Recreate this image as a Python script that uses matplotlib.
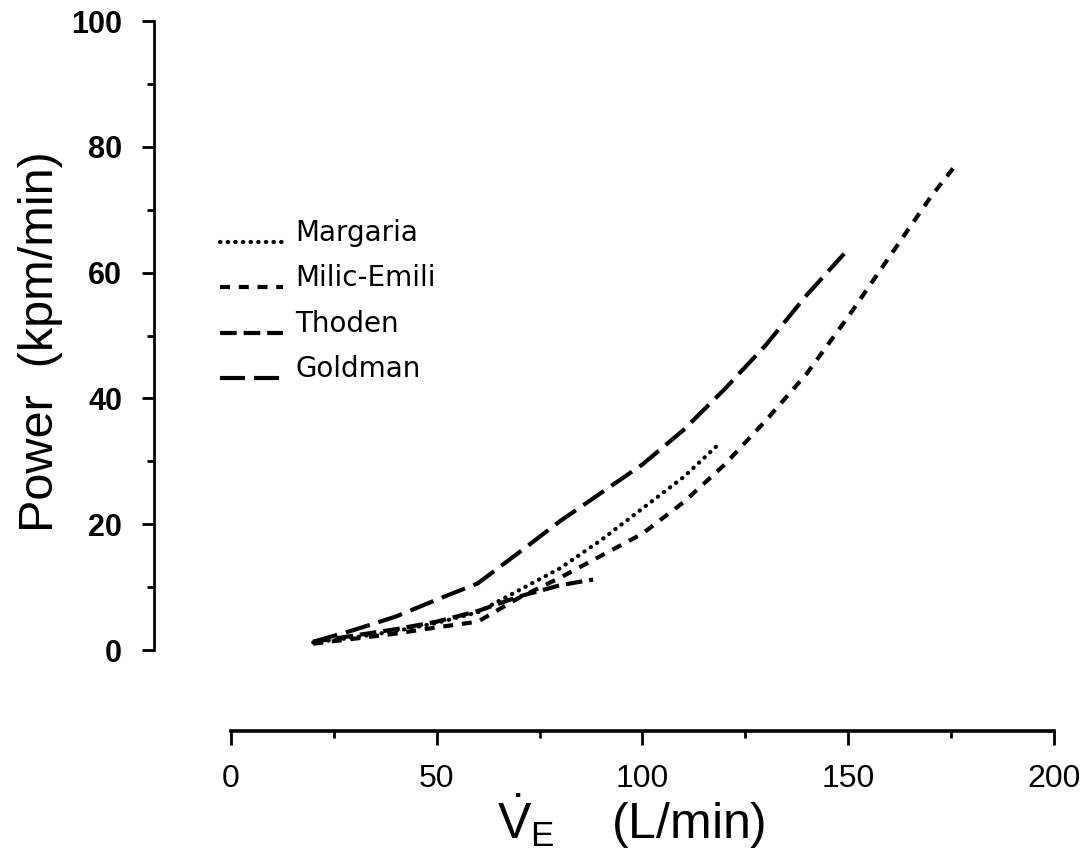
import numpy as np
import matplotlib
matplotlib.use("Agg")
import matplotlib.pyplot as plt
from matplotlib.legend_handler import HandlerLine2D

plt.rcParams["lines.scale_dashes"] = False
plt.rcParams["mathtext.fontset"] = "custom"
plt.rcParams["mathtext.rm"] = "Liberation Sans"
plt.rcParams["mathtext.it"] = "Liberation Sans:italic"

# Ventilation (L/min) and respiratory power (kpm/min) for each model
ve_margaria = [20, 30, 40, 50, 60, 70, 80, 90, 100, 110, 119]
pw_margaria = [1.2, 2.0, 3.0, 4.3, 6.0, 9.5, 13.0, 17.5, 22.5, 27.5, 33.0]

ve_milic = [20, 30, 40, 50, 60, 70, 80, 90, 100, 110, 120, 130, 140, 150, 160, 170, 176]
pw_milic = [1.0, 1.8, 2.6, 3.6, 4.5, 8.3, 11.5, 15.0, 18.5, 23.5, 29.5, 36.5, 44.0, 53.0, 62.5, 72.0, 77.0]

ve_thoden = [20, 30, 40, 50, 60, 70, 80, 88]
pw_thoden = [1.3, 2.3, 3.3, 4.5, 6.2, 8.5, 10.3, 11.2]

ve_goldman = [20, 30, 40, 50, 60, 70, 80, 90, 100, 110, 120, 130, 140, 149]
pw_goldman = [1.3, 3.2, 5.3, 8.0, 10.6, 15.5, 20.5, 25.0, 29.5, 35.0, 41.5, 48.5, 56.5, 63.0]

series_names = ["Margaria", "Milic-Emili", "Thoden", "Goldman"]

x_ticks = [0, 50, 100, 150, 200]
x_minor = [25, 75, 125, 175]
y_ticks = [0, 20, 40, 60, 80, 100]
y_minor = [10, 30, 50, 70, 90]


class BaselineLine(HandlerLine2D):
    """Legend sample drawn near the text baseline instead of mid-height."""

    def __init__(self, drop=0.35, **kw):
        super().__init__(**kw)
        self.drop = drop

    def create_artists(self, legend, orig_handle, xdescent, ydescent,
                       width, height, fontsize, trans):
        arts = super().create_artists(legend, orig_handle, xdescent, ydescent,
                                      width, height, fontsize, trans)
        for a in arts:
            a.set_ydata(np.asarray(a.get_ydata(), float) - self.drop * fontsize)
        return arts


fig = plt.figure(figsize=(10.91, 8.58), dpi=100)
ax = fig.add_axes([0.1407, 0.148, 0.8254, 0.8275])
ax.set_xlim(-18.8, 200)
ax.set_ylim(-12.88, 100)

lw = 3.0
ax.plot(ve_margaria, pw_margaria, color="black", lw=3.0,
        linestyle=(0, (0.3, 5.2)), dash_capstyle="round",
        label=series_names[0])
ax.plot(ve_milic, pw_milic, color="black", lw=lw,
        linestyle=(0, (7.2, 6.3)), label=series_names[1])
ax.plot(ve_thoden, pw_thoden, color="black", lw=lw,
        linestyle=(0, (12.0, 5.0)), label=series_names[2])
ax.plot(ve_goldman, pw_goldman, color="black", lw=lw,
        linestyle=(0, (18.0, 6.5)), label=series_names[3])

# Axes frame: only left and a detached bottom axis
for side in ("top", "right"):
    ax.spines[side].set_visible(False)
ax.spines["left"].set_bounds(0, 100)
ax.spines["bottom"].set_bounds(0, 200)
ax.spines["left"].set_linewidth(2.0)
ax.spines["bottom"].set_linewidth(2.6)

ax.set_xticks(x_ticks)
ax.set_xticks(x_minor, minor=True)
ax.set_yticks(y_ticks)
ax.set_yticks(y_minor, minor=True)
ax.set_xticklabels([str(v) for v in x_ticks])
ax.set_yticklabels([str(v) for v in y_ticks])

ax.tick_params(axis="y", which="major", direction="out", length=8.6, width=2.0, pad=14)
ax.tick_params(axis="y", which="minor", direction="out", length=4.7, width=2.0)
ax.tick_params(axis="x", which="major", direction="out", length=10, width=2.0, pad=14)
ax.tick_params(axis="x", which="minor", direction="out", length=5, width=2.0)

for t in ax.get_yticklabels():
    t.set_fontfamily("Liberation Sans")
    t.set_fontsize(22)
    t.set_fontweight("bold")
for t in ax.get_xticklabels():
    t.set_fontfamily("Liberation Sans")
    t.set_fontsize(23)

ax.set_ylabel("Power  (kpm/min)", fontsize=35, family="Liberation Sans")
ax.yaxis.label.set_va("center")
ax.yaxis.set_label_coords(-0.126, 0.549)

ax.set_xlabel(r"$\dot{\mathrm{V}}_{\mathrm{E}}$    (L/min)", fontsize=36,
              family="Liberation Sans")
ax.xaxis.label.set_va("center")
ax.xaxis.set_label_coords(0.531, -0.127)

leg = ax.legend(loc="upper left", bbox_to_anchor=(0.0738, 0.7212),
                frameon=False, fontsize=20, handlelength=2.27,
                handletextpad=0.45, labelspacing=0.63, borderpad=0,
                borderaxespad=0,
                handler_map={matplotlib.lines.Line2D: BaselineLine(drop=0.38)})
for t in leg.get_texts():
    t.set_fontfamily("DejaVu Sans")

fig.savefig("out.png", dpi=100, facecolor="white")
